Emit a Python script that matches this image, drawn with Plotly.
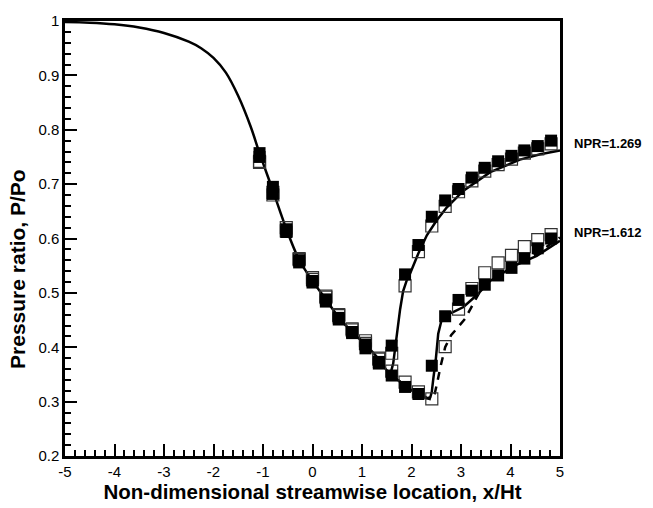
import plotly.graph_objects as go

# ---------------- data ----------------
x_common = [-5, -4.5, -4, -3.5, -3, -2.5, -2.25, -2, -1.75, -1.5, -1.25, -1.07, -0.8, -0.53, -0.27, 0, 0.27, 0.53, 0.8, 1.07, 1.34, 1.5]
y_common = [0.998, 0.997, 0.994, 0.988, 0.978, 0.962, 0.950, 0.932, 0.905, 0.862, 0.806, 0.757, 0.688, 0.618, 0.561, 0.522, 0.488, 0.455, 0.428, 0.405, 0.378, 0.357]

x_npr1269 = [1.5, 1.58, 1.63, 1.67, 1.72, 1.77, 1.83, 1.9, 1.97, 2.14, 2.31, 2.5, 2.71, 3.05, 3.59, 4.19, 4.6, 5.0]
y_npr1269 = [0.357, 0.353, 0.37, 0.40, 0.432, 0.47, 0.503, 0.522, 0.535, 0.573, 0.606, 0.632, 0.657, 0.688, 0.722, 0.745, 0.755, 0.762]

x_npr1612 = [1.5, 1.75, 2.0, 2.2, 2.31, 2.38, 2.41, 2.44, 2.49, 2.54, 2.61, 2.71, 2.85, 3.05, 3.32, 3.59, 4.06, 4.53, 5.0]
y_npr1612 = [0.357, 0.338, 0.321, 0.311, 0.306, 0.308, 0.318, 0.342, 0.377, 0.425, 0.451, 0.46, 0.465, 0.474, 0.496, 0.522, 0.549, 0.568, 0.596]

x_dash = [1.5, 1.75, 2.0, 2.2, 2.35, 2.42, 2.47, 2.52, 2.58, 2.68, 2.8, 2.94, 3.08, 3.2, 3.38, 3.6, 4.06, 4.53, 5.0]
y_dash = [0.357, 0.338, 0.321, 0.311, 0.305, 0.304, 0.315, 0.335, 0.362, 0.40, 0.422, 0.437, 0.452, 0.472, 0.502, 0.524, 0.551, 0.572, 0.602]

x_exp = [-1.07, -0.80, -0.53, -0.27, 0.00, 0.27, 0.53, 0.80, 1.07, 1.34, 1.60, 1.87, 2.14, 2.41, 2.68, 2.95, 3.22, 3.48, 3.75, 4.02, 4.28, 4.55, 4.82]
filled_1269 = [0.757, 0.695, 0.617, 0.560, 0.522, 0.488, 0.454, 0.428, 0.405, 0.373, 0.403, 0.534, 0.588, 0.640, 0.670, 0.691, 0.712, 0.730, 0.742, 0.752, 0.762, 0.770, 0.780]
open_1269 = [0.740, 0.685, 0.620, 0.563, 0.528, 0.494, 0.460, 0.434, 0.412, 0.380, 0.389, 0.513, 0.576, 0.623, 0.659, 0.686, 0.706, 0.724, 0.736, 0.746, 0.757, 0.765, 0.774]
filled_1612 = [0.750, 0.682, 0.612, 0.556, 0.519, 0.484, 0.451, 0.426, 0.398, 0.370, 0.348, 0.327, 0.314, 0.366, 0.457, 0.487, 0.504, 0.515, 0.532, 0.546, 0.563, 0.582, 0.600]
open_1612 = [0.742, 0.680, 0.614, 0.561, 0.525, 0.492, 0.458, 0.432, 0.407, 0.378, 0.356, 0.336, 0.318, 0.305, 0.401, 0.470, 0.508, 0.537, 0.555, 0.569, 0.585, 0.598, 0.607]

x_tickvals = [-5, -4, -3, -2, -1, 0, 1, 2, 3, 4, 5]
x_ticktext = ["-5", "-4", "-3", "-2", "-1", "0", "1", "2", "3", "4", "5"]
y_tickvals = [0.2, 0.3, 0.4, 0.5, 0.6, 0.7, 0.8, 0.9, 1.0]
y_ticktext = ["0.2", "0.3", "0.4", "0.5", "0.6", "0.7", "0.8", "0.9", "1"]

labels = ["NPR=1.269", "NPR=1.612"]
label_y = [0.774, 0.611]

# ---------------- figure ----------------
FONT = "Liberation Sans, Arial, sans-serif"
fig = go.Figure()

line_style = dict(color="black", width=2.5)
fig.add_trace(go.Scatter(x=x_dash, y=y_dash, mode="lines",
                         line=dict(color="black", width=2.5, dash="8px,7px")))
fig.add_trace(go.Scatter(x=x_common, y=y_common, mode="lines",
                         line=dict(color="black", width=2.5, shape="spline", smoothing=1.0)))
fig.add_trace(go.Scatter(x=x_npr1269, y=y_npr1269, mode="lines", line=line_style))
fig.add_trace(go.Scatter(x=x_npr1612, y=y_npr1612, mode="lines", line=line_style))

for ys in (open_1269, open_1612):
    fig.add_trace(go.Scatter(x=x_exp, y=ys, mode="markers",
                             marker=dict(symbol="square-open", size=12,
                                         color="#333333", line=dict(width=1.2, color="#333333"))))
for ys in (filled_1269, filled_1612):
    fig.add_trace(go.Scatter(x=x_exp, y=ys, mode="markers",
                             marker=dict(symbol="square", size=12, color="black",
                                         line=dict(width=0))))

# y-axis range used to place the labels in paper coordinates
Y0, Y1 = 0.2, 1.0
for txt, yy in zip(labels, label_y):
    fig.add_annotation(x=1.024, y=(yy - Y0) / (Y1 - Y0), xref="paper", yref="paper",
                       text="<b>%s</b>" % txt,
                       showarrow=False, xanchor="left", yanchor="middle",
                       font=dict(family=FONT, size=13, color="black"))

fig.add_annotation(x=-0.095, y=0.43, xref="paper", yref="paper",
                   text="<b>Pressure ratio, P/Po</b>", textangle=-90,
                   showarrow=False, xanchor="center", yanchor="middle",
                   font=dict(family=FONT, size=21, color="black"))

axis_common = dict(showgrid=False, zeroline=False, showline=True, linecolor="black",
                   linewidth=2.5, mirror=True, ticks="inside", ticklen=12,
                   tickwidth=2, tickcolor="black",
                   tickfont=dict(family=FONT, size=15, color="black"))

fig.update_xaxes(range=[-5, 5], tickvals=x_tickvals, ticktext=x_ticktext,
                 minor=dict(ticks="inside", dtick=0.2, ticklen=6, tickwidth=1.5,
                            tickcolor="black", showgrid=False),
                 title=dict(text="<b>Non-dimensional streamwise location, x/Ht</b>",
                            font=dict(family=FONT, size=20.5, color="black"), standoff=2),
                 **axis_common)
fig.update_yaxes(range=[Y0, Y1], tickvals=y_tickvals, ticktext=y_ticktext,
                 minor=dict(ticks="inside", dtick=0.02, ticklen=6, tickwidth=1.5,
                            tickcolor="black", showgrid=False),
                 **axis_common)

fig.update_layout(width=653, height=508, showlegend=False,
                  plot_bgcolor="white", paper_bgcolor="white",
                  margin=dict(l=65, r=93, t=13, b=45))

fig.write_html("out.html")
